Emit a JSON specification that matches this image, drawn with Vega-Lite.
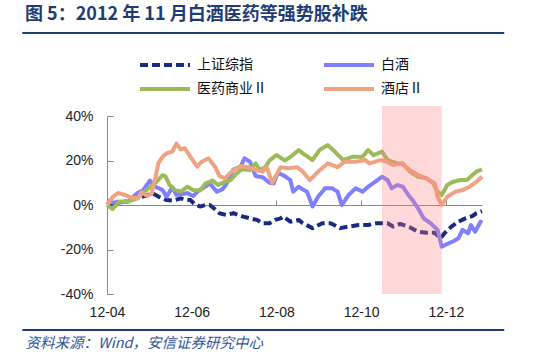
{
  "$schema": "https://vega.github.io/schema/vega-lite/v6.json",
  "width": 375,
  "height": 178,
  "autosize": "none",
  "padding": {"left": 107, "top": 116, "right": 68, "bottom": 62},
  "background": "white",
  "config": {"view": {"stroke": null}, "font": "Liberation Sans"},
  "title": {
    "text": "图 5：2012 年 11 月白酒医药等强势股补跌",
    "anchor": "start",
    "frame": "group",
    "dx": -82,
    "offset": 8,
    "font": "Noto Sans CJK SC",
    "fontSize": 18,
    "fontWeight": "bold",
    "color": "#1F3C74"
  },
  "datasets": {
    "series": [
      {"d": "2012-04-01", "s": "上证综指", "v": 0},
      {"d": "2012-04-07", "s": "上证综指", "v": 1},
      {"d": "2012-04-14", "s": "上证综指", "v": 1.5},
      {"d": "2012-04-21", "s": "上证综指", "v": 3},
      {"d": "2012-04-28", "s": "上证综指", "v": 4},
      {"d": "2012-05-04", "s": "上证综指", "v": 5.2},
      {"d": "2012-05-09", "s": "上证综指", "v": 3.5},
      {"d": "2012-05-14", "s": "上证综指", "v": 2.2},
      {"d": "2012-05-19", "s": "上证综指", "v": 2},
      {"d": "2012-05-24", "s": "上证综指", "v": 3},
      {"d": "2012-05-27", "s": "上证综指", "v": 2.5},
      {"d": "2012-05-31", "s": "上证综指", "v": 2.2},
      {"d": "2012-06-03", "s": "上证综指", "v": 0.5},
      {"d": "2012-06-07", "s": "上证综指", "v": -0.7},
      {"d": "2012-06-11", "s": "上证综指", "v": 0},
      {"d": "2012-06-14", "s": "上证综指", "v": 0},
      {"d": "2012-06-18", "s": "上证综指", "v": -2},
      {"d": "2012-06-21", "s": "上证综指", "v": -3.7},
      {"d": "2012-06-26", "s": "上证综指", "v": -4.5},
      {"d": "2012-07-01", "s": "上证综指", "v": -3.7},
      {"d": "2012-07-08", "s": "上证综指", "v": -5.2},
      {"d": "2012-07-13", "s": "上证综指", "v": -6},
      {"d": "2012-07-18", "s": "上证综指", "v": -6.7},
      {"d": "2012-07-22", "s": "上证综指", "v": -8.2},
      {"d": "2012-07-27", "s": "上证综指", "v": -8.2},
      {"d": "2012-07-31", "s": "上证综指", "v": -6.7},
      {"d": "2012-08-04", "s": "上证综指", "v": -6},
      {"d": "2012-08-06", "s": "上证综指", "v": -5.2},
      {"d": "2012-08-11", "s": "上证综指", "v": -7.5},
      {"d": "2012-08-17", "s": "上证综指", "v": -6.7},
      {"d": "2012-08-20", "s": "上证综指", "v": -8.2},
      {"d": "2012-08-27", "s": "上证综指", "v": -10.4},
      {"d": "2012-09-03", "s": "上证综指", "v": -8.2},
      {"d": "2012-09-09", "s": "上证综指", "v": -8.2},
      {"d": "2012-09-16", "s": "上证综指", "v": -10.4},
      {"d": "2012-09-22", "s": "上证综指", "v": -9.7},
      {"d": "2012-09-29", "s": "上证综指", "v": -9},
      {"d": "2012-10-06", "s": "上证综指", "v": -9},
      {"d": "2012-10-12", "s": "上证综指", "v": -8.2},
      {"d": "2012-10-20", "s": "上证综指", "v": -8.2},
      {"d": "2012-10-24", "s": "上证综指", "v": -9.7},
      {"d": "2012-10-29", "s": "上证综指", "v": -8.5},
      {"d": "2012-11-05", "s": "上证综指", "v": -10},
      {"d": "2012-11-11", "s": "上证综指", "v": -12},
      {"d": "2012-11-17", "s": "上证综指", "v": -12.5},
      {"d": "2012-11-23", "s": "上证综指", "v": -12.5},
      {"d": "2012-11-27", "s": "上证综指", "v": -15},
      {"d": "2012-11-30", "s": "上证综指", "v": -12.7},
      {"d": "2012-12-05", "s": "上证综指", "v": -9.7},
      {"d": "2012-12-10", "s": "上证综指", "v": -7.5},
      {"d": "2012-12-15", "s": "上证综指", "v": -6},
      {"d": "2012-12-20", "s": "上证综指", "v": -5},
      {"d": "2012-12-23", "s": "上证综指", "v": -3.7},
      {"d": "2012-12-27", "s": "上证综指", "v": -2.8},

      {"d": "2012-04-01", "s": "白酒", "v": 2},
      {"d": "2012-04-05", "s": "白酒", "v": 1},
      {"d": "2012-04-09", "s": "白酒", "v": 1.5},
      {"d": "2012-04-16", "s": "白酒", "v": 1.5},
      {"d": "2012-04-23", "s": "白酒", "v": 5.4},
      {"d": "2012-04-27", "s": "白酒", "v": 6.7},
      {"d": "2012-05-02", "s": "白酒", "v": 11},
      {"d": "2012-05-06", "s": "白酒", "v": 8.2},
      {"d": "2012-05-11", "s": "白酒", "v": 6.7},
      {"d": "2012-05-14", "s": "白酒", "v": 3.7},
      {"d": "2012-05-18", "s": "白酒", "v": 8},
      {"d": "2012-05-21", "s": "白酒", "v": 4.5},
      {"d": "2012-05-26", "s": "白酒", "v": 5},
      {"d": "2012-05-29", "s": "白酒", "v": 5.4},
      {"d": "2012-06-02", "s": "白酒", "v": 4},
      {"d": "2012-06-06", "s": "白酒", "v": 6.5},
      {"d": "2012-06-09", "s": "白酒", "v": 7.5},
      {"d": "2012-06-14", "s": "白酒", "v": 9.7},
      {"d": "2012-06-19", "s": "白酒", "v": 6},
      {"d": "2012-06-23", "s": "白酒", "v": 7},
      {"d": "2012-06-26", "s": "白酒", "v": 9.5},
      {"d": "2012-07-01", "s": "白酒", "v": 16},
      {"d": "2012-07-06", "s": "白酒", "v": 17},
      {"d": "2012-07-09", "s": "白酒", "v": 21},
      {"d": "2012-07-13", "s": "白酒", "v": 19.4},
      {"d": "2012-07-17", "s": "白酒", "v": 13},
      {"d": "2012-07-22", "s": "白酒", "v": 12.5},
      {"d": "2012-07-27", "s": "白酒", "v": 10},
      {"d": "2012-07-30", "s": "白酒", "v": 9.7},
      {"d": "2012-08-02", "s": "白酒", "v": 14.5},
      {"d": "2012-08-07", "s": "白酒", "v": 13},
      {"d": "2012-08-11", "s": "白酒", "v": 11.2},
      {"d": "2012-08-13", "s": "白酒", "v": 6},
      {"d": "2012-08-17", "s": "白酒", "v": 8.2},
      {"d": "2012-08-20", "s": "白酒", "v": 7},
      {"d": "2012-08-23", "s": "白酒", "v": 6},
      {"d": "2012-08-27", "s": "白酒", "v": -0.7},
      {"d": "2012-08-31", "s": "白酒", "v": 3.7},
      {"d": "2012-09-05", "s": "白酒", "v": 7.5},
      {"d": "2012-09-10", "s": "白酒", "v": 7.5},
      {"d": "2012-09-14", "s": "白酒", "v": 6},
      {"d": "2012-09-17", "s": "白酒", "v": 0},
      {"d": "2012-09-22", "s": "白酒", "v": 4.5},
      {"d": "2012-09-27", "s": "白酒", "v": 7.5},
      {"d": "2012-10-02", "s": "白酒", "v": 6},
      {"d": "2012-10-06", "s": "白酒", "v": 8.2},
      {"d": "2012-10-11", "s": "白酒", "v": 10.4},
      {"d": "2012-10-16", "s": "白酒", "v": 12.7},
      {"d": "2012-10-20", "s": "白酒", "v": 11.2},
      {"d": "2012-10-23", "s": "白酒", "v": 7.5},
      {"d": "2012-10-27", "s": "白酒", "v": 9},
      {"d": "2012-10-31", "s": "白酒", "v": 8.2},
      {"d": "2012-11-04", "s": "白酒", "v": 4.5},
      {"d": "2012-11-07", "s": "白酒", "v": 2.2},
      {"d": "2012-11-11", "s": "白酒", "v": -1.5},
      {"d": "2012-11-15", "s": "白酒", "v": -6},
      {"d": "2012-11-20", "s": "白酒", "v": -8.2},
      {"d": "2012-11-25", "s": "白酒", "v": -11.2},
      {"d": "2012-11-28", "s": "白酒", "v": -18.7},
      {"d": "2012-12-02", "s": "白酒", "v": -17.5},
      {"d": "2012-12-06", "s": "白酒", "v": -16.4},
      {"d": "2012-12-10", "s": "白酒", "v": -15},
      {"d": "2012-12-13", "s": "白酒", "v": -11.2},
      {"d": "2012-12-17", "s": "白酒", "v": -12.7},
      {"d": "2012-12-19", "s": "白酒", "v": -9},
      {"d": "2012-12-22", "s": "白酒", "v": -12},
      {"d": "2012-12-26", "s": "白酒", "v": -7.5},
      {"d": "2012-12-27", "s": "白酒", "v": -8},

      {"d": "2012-04-01", "s": "医药商业Ⅱ", "v": 0},
      {"d": "2012-04-05", "s": "医药商业Ⅱ", "v": -1.8},
      {"d": "2012-04-10", "s": "医药商业Ⅱ", "v": 1.5},
      {"d": "2012-04-16", "s": "医药商业Ⅱ", "v": 1.5},
      {"d": "2012-04-23", "s": "医药商业Ⅱ", "v": 3},
      {"d": "2012-04-27", "s": "医药商业Ⅱ", "v": 5.4},
      {"d": "2012-05-01", "s": "医药商业Ⅱ", "v": 7.5},
      {"d": "2012-05-06", "s": "医药商业Ⅱ", "v": 10},
      {"d": "2012-05-11", "s": "医药商业Ⅱ", "v": 13.4},
      {"d": "2012-05-13", "s": "医药商业Ⅱ", "v": 13},
      {"d": "2012-05-16", "s": "医药商业Ⅱ", "v": 9},
      {"d": "2012-05-20", "s": "医药商业Ⅱ", "v": 6.7},
      {"d": "2012-05-24", "s": "医药商业Ⅱ", "v": 6},
      {"d": "2012-05-29", "s": "医药商业Ⅱ", "v": 8.2},
      {"d": "2012-06-02", "s": "医药商业Ⅱ", "v": 6.7},
      {"d": "2012-06-07", "s": "医药商业Ⅱ", "v": 6.5},
      {"d": "2012-06-11", "s": "医药商业Ⅱ", "v": 9.7},
      {"d": "2012-06-16", "s": "医药商业Ⅱ", "v": 11},
      {"d": "2012-06-20", "s": "医药商业Ⅱ", "v": 9},
      {"d": "2012-06-25", "s": "医药商业Ⅱ", "v": 10.5},
      {"d": "2012-06-29", "s": "医药商业Ⅱ", "v": 11.2},
      {"d": "2012-07-03", "s": "医药商业Ⅱ", "v": 14},
      {"d": "2012-07-07", "s": "医药商业Ⅱ", "v": 16},
      {"d": "2012-07-13", "s": "医药商业Ⅱ", "v": 15.7},
      {"d": "2012-07-17", "s": "医药商业Ⅱ", "v": 18.7},
      {"d": "2012-07-20", "s": "医药商业Ⅱ", "v": 15.7},
      {"d": "2012-07-24", "s": "医药商业Ⅱ", "v": 17},
      {"d": "2012-07-27", "s": "医药商业Ⅱ", "v": 20},
      {"d": "2012-08-01", "s": "医药商业Ⅱ", "v": 22.5},
      {"d": "2012-08-07", "s": "医药商业Ⅱ", "v": 20},
      {"d": "2012-08-12", "s": "医药商业Ⅱ", "v": 22},
      {"d": "2012-08-17", "s": "医药商业Ⅱ", "v": 24.7},
      {"d": "2012-08-20", "s": "医药商业Ⅱ", "v": 23.2},
      {"d": "2012-08-27", "s": "医药商业Ⅱ", "v": 20.2},
      {"d": "2012-09-01", "s": "医药商业Ⅱ", "v": 24.7},
      {"d": "2012-09-07", "s": "医药商业Ⅱ", "v": 26.9},
      {"d": "2012-09-12", "s": "医药商业Ⅱ", "v": 24},
      {"d": "2012-09-18", "s": "医药商业Ⅱ", "v": 20.2},
      {"d": "2012-09-25", "s": "医药商业Ⅱ", "v": 21.7},
      {"d": "2012-10-02", "s": "医药商业Ⅱ", "v": 21.7},
      {"d": "2012-10-06", "s": "医药商业Ⅱ", "v": 24.7},
      {"d": "2012-10-10", "s": "医药商业Ⅱ", "v": 22.4},
      {"d": "2012-10-16", "s": "医药商业Ⅱ", "v": 24},
      {"d": "2012-10-20", "s": "医药商业Ⅱ", "v": 20.2},
      {"d": "2012-10-27", "s": "医药商业Ⅱ", "v": 18.7},
      {"d": "2012-10-31", "s": "医药商业Ⅱ", "v": 18.7},
      {"d": "2012-11-05", "s": "医药商业Ⅱ", "v": 15},
      {"d": "2012-11-11", "s": "医药商业Ⅱ", "v": 12.7},
      {"d": "2012-11-17", "s": "医药商业Ⅱ", "v": 12},
      {"d": "2012-11-22", "s": "医药商业Ⅱ", "v": 9.7},
      {"d": "2012-11-25", "s": "医药商业Ⅱ", "v": 6},
      {"d": "2012-11-28", "s": "医药商业Ⅱ", "v": 4.5},
      {"d": "2012-12-02", "s": "医药商业Ⅱ", "v": 9},
      {"d": "2012-12-06", "s": "医药商业Ⅱ", "v": 10.4},
      {"d": "2012-12-11", "s": "医药商业Ⅱ", "v": 11.2},
      {"d": "2012-12-16", "s": "医药商业Ⅱ", "v": 11.2},
      {"d": "2012-12-20", "s": "医药商业Ⅱ", "v": 13.4},
      {"d": "2012-12-23", "s": "医药商业Ⅱ", "v": 15},
      {"d": "2012-12-27", "s": "医药商业Ⅱ", "v": 16},

      {"d": "2012-04-01", "s": "酒店Ⅱ", "v": 0},
      {"d": "2012-04-05", "s": "酒店Ⅱ", "v": 3.5},
      {"d": "2012-04-09", "s": "酒店Ⅱ", "v": 5.4},
      {"d": "2012-04-14", "s": "酒店Ⅱ", "v": 4.5},
      {"d": "2012-04-18", "s": "酒店Ⅱ", "v": 3.4},
      {"d": "2012-04-23", "s": "酒店Ⅱ", "v": 3},
      {"d": "2012-04-26", "s": "酒店Ⅱ", "v": 5.8},
      {"d": "2012-04-30", "s": "酒店Ⅱ", "v": 4},
      {"d": "2012-05-03", "s": "酒店Ⅱ", "v": 5},
      {"d": "2012-05-06", "s": "酒店Ⅱ", "v": 12.7},
      {"d": "2012-05-08", "s": "酒店Ⅱ", "v": 18.8},
      {"d": "2012-05-11", "s": "酒店Ⅱ", "v": 21.7},
      {"d": "2012-05-14", "s": "酒店Ⅱ", "v": 23.3},
      {"d": "2012-05-18", "s": "酒店Ⅱ", "v": 24},
      {"d": "2012-05-21", "s": "酒店Ⅱ", "v": 27.6},
      {"d": "2012-05-24", "s": "酒店Ⅱ", "v": 25},
      {"d": "2012-05-27", "s": "酒店Ⅱ", "v": 25.5},
      {"d": "2012-05-31", "s": "酒店Ⅱ", "v": 21.7},
      {"d": "2012-06-05", "s": "酒店Ⅱ", "v": 17.2},
      {"d": "2012-06-08", "s": "酒店Ⅱ", "v": 19.4},
      {"d": "2012-06-13", "s": "酒店Ⅱ", "v": 21},
      {"d": "2012-06-18", "s": "酒店Ⅱ", "v": 17},
      {"d": "2012-06-21", "s": "酒店Ⅱ", "v": 13},
      {"d": "2012-06-25", "s": "酒店Ⅱ", "v": 12},
      {"d": "2012-07-01", "s": "酒店Ⅱ", "v": 15.7},
      {"d": "2012-07-06", "s": "酒店Ⅱ", "v": 17.5},
      {"d": "2012-07-12", "s": "酒店Ⅱ", "v": 17},
      {"d": "2012-07-17", "s": "酒店Ⅱ", "v": 15.7},
      {"d": "2012-07-22", "s": "酒店Ⅱ", "v": 15},
      {"d": "2012-07-25", "s": "酒店Ⅱ", "v": 17},
      {"d": "2012-07-29", "s": "酒店Ⅱ", "v": 10},
      {"d": "2012-08-04", "s": "酒店Ⅱ", "v": 17},
      {"d": "2012-08-09", "s": "酒店Ⅱ", "v": 16.5},
      {"d": "2012-08-16", "s": "酒店Ⅱ", "v": 17},
      {"d": "2012-08-20", "s": "酒店Ⅱ", "v": 15},
      {"d": "2012-08-25", "s": "酒店Ⅱ", "v": 11.2},
      {"d": "2012-08-31", "s": "酒店Ⅱ", "v": 15},
      {"d": "2012-09-07", "s": "酒店Ⅱ", "v": 18.7},
      {"d": "2012-09-14", "s": "酒店Ⅱ", "v": 17},
      {"d": "2012-09-19", "s": "酒店Ⅱ", "v": 19.4},
      {"d": "2012-09-27", "s": "酒店Ⅱ", "v": 19.4},
      {"d": "2012-10-04", "s": "酒店Ⅱ", "v": 20.2},
      {"d": "2012-10-07", "s": "酒店Ⅱ", "v": 18.7},
      {"d": "2012-10-15", "s": "酒店Ⅱ", "v": 20.2},
      {"d": "2012-10-20", "s": "酒店Ⅱ", "v": 19.4},
      {"d": "2012-10-24", "s": "酒店Ⅱ", "v": 18},
      {"d": "2012-10-30", "s": "酒店Ⅱ", "v": 18.7},
      {"d": "2012-11-05", "s": "酒店Ⅱ", "v": 15.7},
      {"d": "2012-11-11", "s": "酒店Ⅱ", "v": 13.4},
      {"d": "2012-11-17", "s": "酒店Ⅱ", "v": 12},
      {"d": "2012-11-23", "s": "酒店Ⅱ", "v": 9.7},
      {"d": "2012-11-25", "s": "酒店Ⅱ", "v": 3.7},
      {"d": "2012-11-28", "s": "酒店Ⅱ", "v": 0},
      {"d": "2012-12-02", "s": "酒店Ⅱ", "v": 3.7},
      {"d": "2012-12-08", "s": "酒店Ⅱ", "v": 6},
      {"d": "2012-12-13", "s": "酒店Ⅱ", "v": 6.7},
      {"d": "2012-12-18", "s": "酒店Ⅱ", "v": 8.2},
      {"d": "2012-12-23", "s": "酒店Ⅱ", "v": 10.4},
      {"d": "2012-12-27", "s": "酒店Ⅱ", "v": 12.7}
    ],
    "shade": [{"a": "2012-10-16", "b": "2012-11-28", "lo": -40, "hi": 44.5}],
    "rules": [
      {"x1": "2012-01-31", "x2": "2013-01-12", "y": 77.3},
      {"x1": "2012-01-31", "x2": "2013-01-12", "y": -56.2}
    ]
  },
  "resolve": {"axis": {"x": "independent"}},
  "layer": [
    {
      "data": {"name": "series"},
      "mark": {"type": "line", "strokeWidth": 4, "strokeJoin": "round"},
      "encoding": {
        "x": {
          "field": "d", "type": "temporal",
          "scale": {"type": "utc", "nice": false, "domain": [{"year": 2012, "month": 4, "date": 1, "utc": true}, {"year": 2012, "month": 12, "date": 27, "utc": true}]},
          "axis": {
            "orient": "bottom",
            "values": [{"year": 2012, "month": 4, "date": 1, "utc": true}, {"year": 2012, "month": 6, "date": 1, "utc": true}, {"year": 2012, "month": 8, "date": 1, "utc": true}, {"year": 2012, "month": 10, "date": 1, "utc": true}, {"year": 2012, "month": 12, "date": 1, "utc": true}],
            "format": "%y-%m",
            "domain": false, "ticks": false, "grid": false, "labelFlush": false, "labelOverlap": false,
            "labelPadding": 11, "labelFontSize": 14, "labelColor": "#222222", "labelFont": "Liberation Sans",
            "title": "资料来源：Wind，安信证券研究中心",
            "titleFont": "Noto Sans CJK SC", "titleFontSize": 14.5, "titleFontStyle": "italic", "titleFontWeight": "normal",
            "titleColor": "#2F5597", "titleAlign": "left", "titleAnchor": "start", "titleX": -82, "titleY": 49, "titleBaseline": "middle"
          }
        },
        "y": {
          "field": "v", "type": "quantitative",
          "scale": {"domain": [-40, 40], "nice": false, "zero": false},
          "axis": {
            "orient": "left", "values": [-40, -20, 0, 20, 40], "labelExpr": "datum.value + '%'",
            "domain": true, "ticks": true, "labels": true,
            "domainColor": "#868686", "tickColor": "#868686", "tickSize": -6, "grid": false,
            "labelPadding": 20, "labelFontSize": 14, "labelColor": "#222222", "labelFont": "Liberation Sans", "title": null
          }
        },
        "color": {
          "field": "s", "type": "nominal",
          "scale": {"domain": ["上证综指", "白酒", "医药商业Ⅱ", "酒店Ⅱ"], "range": ["#1A2A80", "#7F7FFF", "#9BBB59", "#F0A283"]},
          "legend": {"orient": "none", "direction": "horizontal", "legendX": 51, "legendY": -58, "columns": 2, "columnPadding": 49, "rowPadding": 8, "values": ["上证综指", "白酒", "医药商业Ⅱ", "酒店Ⅱ"], "symbolType": "M-5,0H5", "symbolSize": 100, "symbolStrokeWidth": 4, "labelOffset": 25, "labelFontSize": 14, "labelFont": "Noto Sans CJK SC", "labelColor": "#111111", "title": null, "padding": 0}
        },
        "strokeDash": {
          "field": "s", "type": "nominal",
          "scale": {"domain": ["上证综指", "白酒", "医药商业Ⅱ", "酒店Ⅱ"], "range": [[8, 4], [1, 0], [1, 0], [1, 0]]},
          "legend": {"orient": "none", "direction": "horizontal", "legendX": 51, "legendY": -58, "columns": 2, "columnPadding": 49, "rowPadding": 8, "values": ["上证综指", "白酒", "医药商业Ⅱ", "酒店Ⅱ"], "symbolType": "M-5,0H5", "symbolSize": 100, "symbolStrokeWidth": 4, "labelOffset": 25, "labelFontSize": 14, "labelFont": "Noto Sans CJK SC", "labelColor": "#111111", "title": null, "padding": 0}
        }
      }
    },
    {
      "data": {"name": "shade"},
      "mark": {"type": "rect", "fill": "#FF8080", "opacity": 0.3},
      "encoding": {
        "x": {
          "field": "a", "type": "temporal",
          "axis": {
            "orient": "top", "offset": -89,
            "values": [{"year": 2012, "month": 4, "date": 1, "utc": true}, {"year": 2012, "month": 6, "date": 1, "utc": true}, {"year": 2012, "month": 8, "date": 1, "utc": true}, {"year": 2012, "month": 10, "date": 1, "utc": true}, {"year": 2012, "month": 12, "date": 1, "utc": true}],
            "labels": false, "domain": true, "domainColor": "#868686", "domainWidth": 1,
            "ticks": true, "tickColor": "#868686", "tickSize": 5, "grid": false, "title": null
          }
        },
        "x2": {"field": "b"},
        "y": {"field": "hi", "type": "quantitative"},
        "y2": {"field": "lo"}
      }
    },
    {
      "data": {"name": "rules"},
      "mark": {"type": "rule", "color": "#1F3C74", "strokeWidth": 2},
      "encoding": {
        "x": {"field": "x1", "type": "temporal", "axis": null},
        "x2": {"field": "x2"},
        "y": {"field": "y", "type": "quantitative"}
      }
    }
  ]
}
